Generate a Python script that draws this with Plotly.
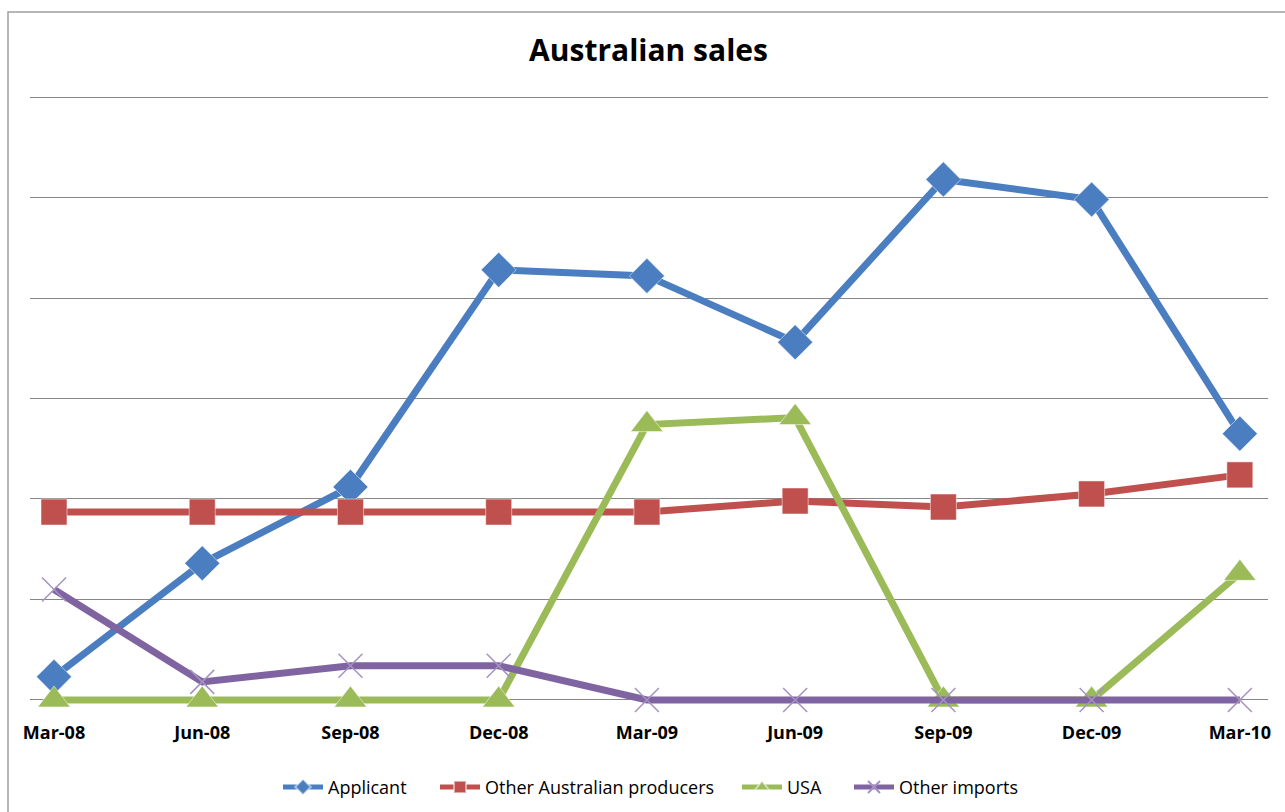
import plotly.graph_objects as go

quarters = ["Mar-08", "Jun-08", "Sep-08", "Dec-08", "Mar-09", "Jun-09", "Sep-09", "Dec-09", "Mar-10"]
applicant = [0.23, 1.36, 2.12, 4.28, 4.22, 3.56, 5.18, 4.98, 2.65]
other_aus = [1.87, 1.87, 1.87, 1.87, 1.87, 1.98, 1.92, 2.05, 2.24]
usa = [0, 0, 0, 0, 2.74, 2.81, 0, 0, 1.26]
other_imports = [1.10, 0.18, 0.34, 0.34, 0, 0, 0, 0, 0]

xi = list(range(len(quarters)))

PX_L, PX_R = 30, 1268
PW = PX_R - PX_L

series = [
    ("Applicant", applicant, "#4A7EC0", "diamond", 27, "legend", 278),
    ("Other Australian producers", other_aus, "#C0504D", "square", 26, "legend2", 435),
    ("USA", usa, "#9BBB59", "triangle-up", 28, "legend3", 737),
    ("Other imports", other_imports, "#8064A2", "x-thin", 24, "legend4", 849),
]

fig = go.Figure()
legends = {}
for name, vals, col, sym, sz, lg, lx in series:
    mk = dict(symbol=sym, size=sz, color=col)
    if sym == "x-thin":
        mk["line"] = dict(color="#A592C2", width=1.5)
    else:
        mk["line"] = dict(color="rgba(255,255,255,0.5)", width=1)
    fig.add_trace(go.Scatter(
        x=xi, y=vals, name=name, mode="lines+markers",
        line=dict(color=col, width=7),
        marker=mk, cliponaxis=False, legend=lg,
    ))
    legends[lg] = dict(orientation="h", x=(lx - PX_L) / PW, xanchor="left",
                       y=-0.125, yanchor="middle", bgcolor="rgba(0,0,0,0)",
                       font=dict(size=18, color="black"), itemwidth=40,
                       itemsizing="constant")

fig.update_layout(
    width=1285, height=812,
    margin=dict(l=PX_L, r=1285 - PX_R, t=92, b=102, autoexpand=False),
    paper_bgcolor="white", plot_bgcolor="white",
    title=dict(text="<b>Australian sales</b>", x=648.5 / 1285, xanchor="center",
               y=1 - 50 / 812, yanchor="middle",
               font=dict(family="Open Sans, Arial", size=30, color="black")),
    font=dict(family="Open Sans, Arial", color="black"),
    showlegend=True,
    xaxis=dict(range=[-0.162, 8.19], tickmode="array", tickvals=xi,
               ticktext=[f"<b>{q}</b>" for q in quarters],
               showgrid=False, zeroline=False, showline=False,
               ticks="outside", ticklen=6, tickcolor="rgba(0,0,0,0)",
               tickfont=dict(size=18, color="black")),
    yaxis=dict(range=[-0.1, 6.05], dtick=1, tick0=0, showgrid=True,
               gridcolor="#868686", gridwidth=1, zeroline=True,
               zerolinecolor="#868686", zerolinewidth=1,
               showticklabels=False, showline=False),
    shapes=[dict(type="rect", xref="paper", yref="paper",
                 x0=(8 - PX_L) / PW, x1=1.2,
                 y0=-0.3, y1=(710 - 12) / 618,
                 line=dict(color="#A0A0A0", width=1.5), layer="below")],
    **legends,
)

fig.write_html("out.html")
